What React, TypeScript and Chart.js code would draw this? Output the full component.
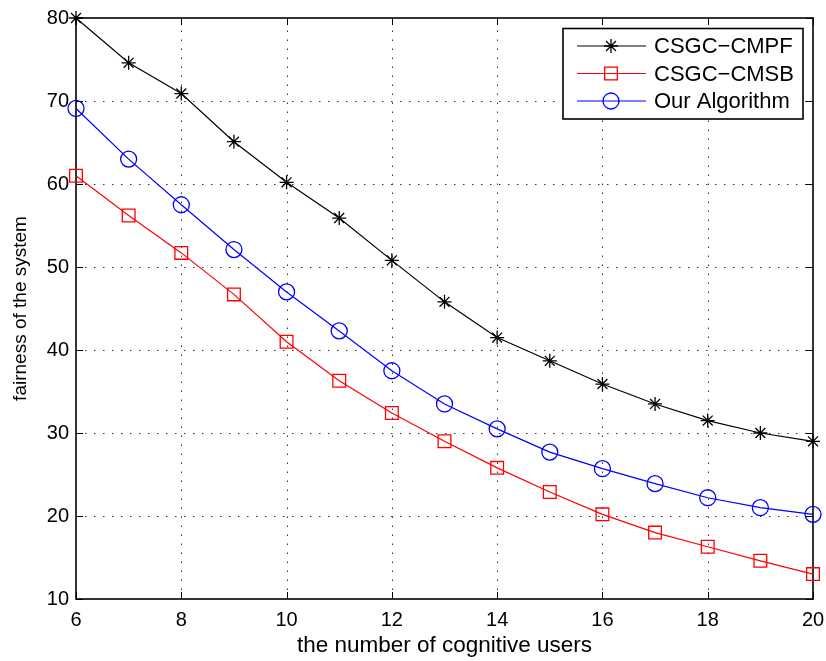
import React, { useEffect, useRef } from 'react';
import { Chart, registerables } from 'chart.js';

Chart.register(...registerables);

const users = [6, 7, 8, 9, 10, 11, 12, 13, 14, 15, 16, 17, 18, 19, 20];
const csgcCmpf = [80.0, 74.6, 70.9, 65.1, 60.2, 55.9, 50.8, 45.8, 41.5, 38.7, 35.9, 33.5, 31.5, 30.0, 29.0];
const csgcCmsb = [61.0, 56.2, 51.7, 46.7, 41.0, 36.3, 32.4, 29.0, 25.8, 22.9, 20.2, 18.0, 16.3, 14.6, 13.0];
const ourAlgorithm = [69.1, 63.0, 57.5, 52.1, 47.0, 42.3, 37.5, 33.5, 30.5, 27.7, 25.7, 23.9, 22.2, 21.0, 20.2];
const xTickValues = [6, 8, 10, 12, 14, 16, 18, 20];
const yTickValues = [10, 20, 30, 40, 50, 60, 70, 80];
const seriesLabels = ['CSGC\u2212CMPF', 'CSGC\u2212CMSB', 'Our Algorithm'];
const xTitle = 'the number of cognitive users';
const yTitle = 'fairness of the system';

const FONT = "'Liberation Sans', Arial, Helvetica, sans-serif";

function drawMarker(ctx: CanvasRenderingContext2D, style: string, x: number, y: number, r: number) {
  ctx.beginPath();
  if (style === 'circle') {
    ctx.arc(x, y, r, 0, Math.PI * 2);
  } else if (style === 'rect') {
    const s = Math.SQRT1_2 * r;
    ctx.rect(x - s, y - s, 2 * s, 2 * s);
  } else if (style === 'star') {
    ctx.moveTo(x - r, y); ctx.lineTo(x + r, y);
    ctx.moveTo(x, y - r); ctx.lineTo(x, y + r);
    const d = r * Math.SQRT1_2;
    ctx.moveTo(x - d, y - d); ctx.lineTo(x + d, y + d);
    ctx.moveTo(x - d, y + d); ctx.lineTo(x + d, y - d);
  }
  ctx.stroke();
}

const framePlugin = {
  id: 'matlabFrame',
  beforeDatasetsDraw(chart: any) {
    const { ctx, chartArea: a, scales } = chart;
    const xs = scales.x;
    const ys = scales.y;
    ctx.save();
    ctx.strokeStyle = '#333';
    ctx.lineWidth = 1;
    ctx.setLineDash([1.5, 7.5]);
    xTickValues.forEach((v) => {
      if (v === xs.min || v === xs.max) return;
      const px = Math.round(xs.getPixelForValue(v)) + 0.5;
      ctx.beginPath(); ctx.moveTo(px, a.bottom); ctx.lineTo(px, a.top); ctx.stroke();
    });
    yTickValues.forEach((v) => {
      if (v === ys.min || v === ys.max) return;
      const py = Math.round(ys.getPixelForValue(v)) + 0.5;
      ctx.beginPath(); ctx.moveTo(a.left, py); ctx.lineTo(a.right, py); ctx.stroke();
    });
    ctx.setLineDash([]);
    ctx.strokeStyle = '#000';
    ctx.lineWidth = 1;
    const tl = 7;
    xTickValues.forEach((v) => {
      const px = Math.round(xs.getPixelForValue(v)) + 0.5;
      ctx.beginPath();
      ctx.moveTo(px, a.bottom); ctx.lineTo(px, a.bottom - tl);
      ctx.moveTo(px, a.top); ctx.lineTo(px, a.top + tl);
      ctx.stroke();
    });
    yTickValues.forEach((v) => {
      const py = Math.round(ys.getPixelForValue(v)) + 0.5;
      ctx.beginPath();
      ctx.moveTo(a.left, py); ctx.lineTo(a.left + tl, py);
      ctx.moveTo(a.right, py); ctx.lineTo(a.right - tl, py);
      ctx.stroke();
    });
    ctx.lineWidth = 1.6;
    ctx.strokeRect(a.left, a.top, a.right - a.left, a.bottom - a.top);
    ctx.restore();
  },
  afterDatasetsDraw(chart: any) {
    const { ctx } = chart;
    const datasets = chart.data.datasets;
    ctx.save();
    const bx = 563, by = 28.5, bw = 240, bh = 90.5;
    ctx.fillStyle = '#fff';
    ctx.fillRect(bx, by, bw, bh);
    ctx.strokeStyle = '#000';
    ctx.lineWidth = 1.6;
    ctx.strokeRect(bx, by, bw, bh);
    const rows = [46, 73.5, 101];
    ctx.font = `22px ${FONT}`;
    ctx.textBaseline = 'middle';
    ctx.textAlign = 'left';
    datasets.forEach((ds: any, i: number) => {
      const y = rows[i];
      ctx.strokeStyle = ds.borderColor;
      ctx.lineWidth = 1.2;
      ctx.beginPath(); ctx.moveTo(577, y); ctx.lineTo(646, y); ctx.stroke();
      ctx.strokeStyle = ds.pointBorderColor;
      ctx.lineWidth = ds.pointBorderWidth;
      drawMarker(ctx, ds.pointStyle, 611, y, ds.pointRadius);
      ctx.fillStyle = '#000';
      ctx.fillText(ds.label, 654, y + 1);
    });
    ctx.restore();
  },
};

export default function App() {
  const ref = useRef<HTMLCanvasElement | null>(null);
  useEffect(() => {
    if (!ref.current) return;
    const mk = (label: string, data: number[], color: string, style: string, r: number) => ({
      label,
      data: users.map((u, i) => ({ x: u, y: data[i] })),
      borderColor: color,
      borderWidth: 1.2,
      pointStyle: style,
      pointRadius: r,
      pointHoverRadius: r,
      pointBorderColor: color,
      pointBackgroundColor: 'rgba(0,0,0,0)',
      pointBorderWidth: 1.3,
      fill: false,
      tension: 0,
      clip: false,
    });
    const chart = new Chart(ref.current, {
      type: 'line',
      data: {
        datasets: [
          mk(seriesLabels[0], csgcCmpf, '#000000', 'star', 7),
          mk(seriesLabels[1], csgcCmsb, '#ff0000', 'rect', 9),
          mk(seriesLabels[2], ourAlgorithm, '#0000ff', 'circle', 8),
        ] as any,
      },
      options: {
        animation: false,
        responsive: false,
        devicePixelRatio: 1,
        events: [],
        layout: { padding: { top: 18, right: 13, left: 0, bottom: 0 } },
        plugins: { legend: { display: false }, tooltip: { enabled: false } },
        scales: {
          x: {
            type: 'linear',
            min: 6,
            max: 20,
            afterBuildTicks: (s: any) => { s.ticks = xTickValues.map((v) => ({ value: v })); },
            afterFit: (s: any) => { s.height = 62; s.paddingLeft = 0; s.paddingRight = 0; },
            ticks: { font: { family: FONT, size: 20 }, color: '#000', padding: 9, maxRotation: 0, autoSkip: false },
            grid: { display: false, drawTicks: false },
            border: { display: false },
            title: { display: true, text: xTitle, color: '#000', font: { family: FONT, size: 22.5 }, padding: { top: 0, bottom: 2 } },
          },
          y: {
            type: 'linear',
            min: 10,
            max: 80,
            afterBuildTicks: (s: any) => { s.ticks = yTickValues.map((v) => ({ value: v })); },
            afterFit: (s: any) => { s.width = 76; s.paddingTop = 0; s.paddingBottom = 0; },
            ticks: { font: { family: FONT, size: 20 }, color: '#000', padding: 7, autoSkip: false },
            grid: { display: false, drawTicks: false },
            border: { display: false },
            title: { display: true, text: yTitle, color: '#000', font: { family: FONT, size: 19 }, padding: { top: 9, bottom: 0 } },
          },
        },
      } as any,
      plugins: [framePlugin],
    });
    return () => chart.destroy();
  }, []);
  return (
    <div style={{ position: 'fixed', left: 0, top: 0, width: 826, height: 661, background: '#fff' }}>
      <canvas ref={ref} width={826} height={661} style={{ display: 'block' }} />
    </div>
  );
}
